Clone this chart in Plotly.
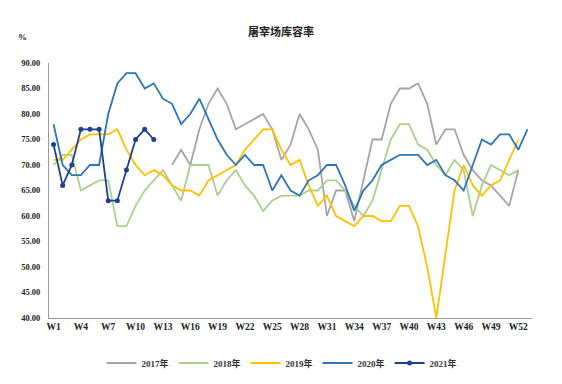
import plotly.graph_objects as go

weeks = [f"W{i}" for i in range(1, 54)]
tick_weeks = [f"W{i}" for i in range(1, 54, 3)]
y_ticks = [40, 45, 50, 55, 60, 65, 70, 75, 80, 85, 90]

s2017 = [None] * 13 + [70, 73, 70, 77, 82, 85, 82, 77, 78, 79, 80, 77, 71, 74, 80,
                       77, 73, 60, 65, 65, 59, 67, 75, 75, 82, 85, 85, 86,
                       82, 74, 77, 77, 72, 69, 67, 66, 64, 62, 69]
s2018 = [70, 72, 72, 65, 66, 67, 67, 58, 58, 62, 65, 67, 69,
         66, 63, 70, 70, 70, 64, 67, 69, 66, 64, 61, 63, 64, 64, 64,
         65, 65, 67, 67, 65, 62, 60, 63, 69, 75, 78, 78, 74,
         73, 70, 68, 71, 69, 60, 66, 70, 69, 68, 69]
s2019 = [71, 71, 73, 75, 76, 76, 76, 77, 73, 70, 68, 69, 68, 66,
         65, 65, 64, 67, 68, 69, 70, 73, 75, 77, 77, 73, 70, 71,
         66, 62, 64, 60, 59, 58, 60, 60, 59, 59, 62, 62, 58,
         50, 40, 53, 65, 70, 66, 64, 66, 67, 71, 75]
s2020 = [78, 70, 68, 68, 70, 70, 80, 86, 88, 88, 85, 86, 83, 82,
         78, 80, 83, 79, 75, 72, 70, 72, 70, 70, 65, 68, 65, 64,
         67, 68, 70, 70, 66, 61, 65, 67, 70, 71, 72, 72, 72,
         70, 71, 68, 67, 65, 70, 75, 74, 76, 76, 73, 77]
s2021 = [74, 66, 70, 77, 77, 77, 63, 63, 69, 75, 77, 75]

series = [
    ("2017年", s2017, "#A5A5A5", False),
    ("2018年", s2018, "#A9D18E", False),
    ("2019年", s2019, "#FFC000", False),
    ("2020年", s2020, "#2E75B6", False),
    ("2021年", s2021, "#1F3F8F", True),
]

fig = go.Figure()
for name, vals, color, markers in series:
    fig.add_trace(go.Scatter(
        x=weeks[:len(vals)], y=vals, name=name,
        mode="lines+markers" if markers else "lines",
        line=dict(color=color, width=1.8),
        marker=dict(size=5, color=color),
        connectgaps=False,
    ))

W, H = 554, 376
serif = "Liberation Serif, Noto Sans CJK SC"
fig.update_layout(
    width=W, height=H,
    margin=dict(l=41, r=30, t=55, b=66),
    paper_bgcolor="white", plot_bgcolor="white",
    title=dict(text="屠宰场库容率", x=(281 - 8) / W, xanchor="center", y=1 - 24 / H, yanchor="middle",
               font=dict(family="Noto Sans CJK SC", size=11, color="#222", weight="bold")),
    font=dict(family=serif, size=9, color="#333"),
    showlegend=True,
    legend=dict(orientation="h", xref="container", yref="container", x=(282 - 8) / W, xanchor="center",
                y=1 - 355 / H, yanchor="middle",
                font=dict(family=serif, size=9, color="#333", weight="bold"),
                itemwidth=30, tracegroupgap=0),
    xaxis=dict(type="category", categoryorder="array", categoryarray=weeks,
               range=[-0.5, 52.5], tickmode="array", tickvals=tick_weeks, ticktext=tick_weeks,
               showline=True, linecolor="#9A9A9A", linewidth=1, showgrid=False, ticks="",
               tickfont=dict(family=serif, size=9.5, color="#222", weight="bold"), zeroline=False),
    yaxis=dict(range=[40, 90], tickmode="array", tickvals=y_ticks,
               ticktext=[f"{v:.2f}" for v in y_ticks],
               showline=True, linecolor="#9A9A9A", linewidth=1, showgrid=False, ticks="",
               tickfont=dict(family=serif, size=8.5, color="#222", weight="bold"),
               zeroline=False, ticklabelstandoff=6),
    annotations=[dict(text="%", xref="paper", yref="paper", x=-27 / 483, y=1 + 26 / 255,
                      xanchor="center", yanchor="middle", showarrow=False,
                      font=dict(family=serif, size=9, color="#222", weight="bold"))],
)

fig.write_html("out.html")
